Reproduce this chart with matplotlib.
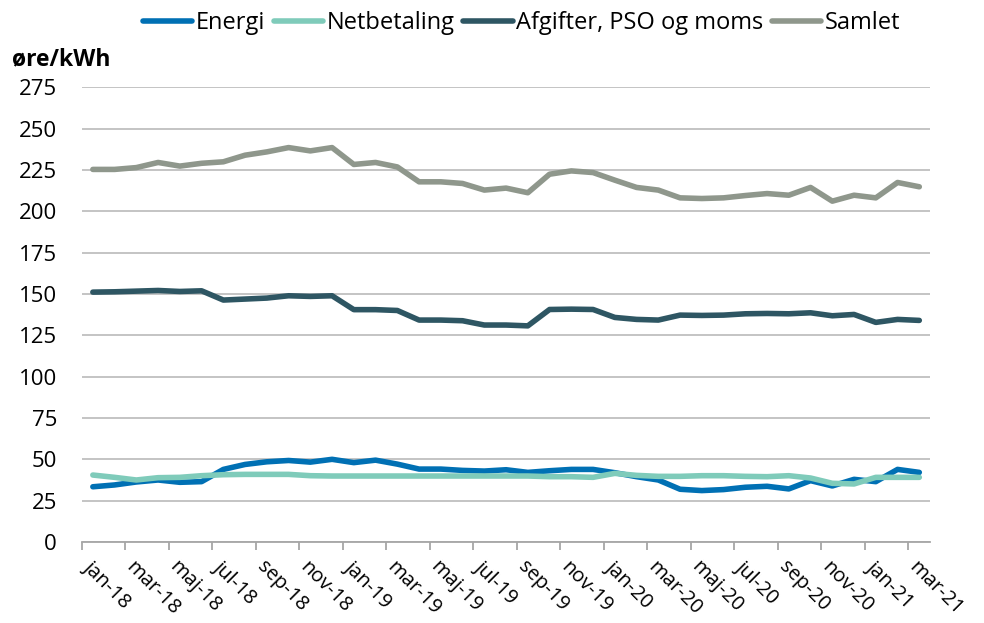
import numpy as np
import matplotlib.pyplot as plt
from matplotlib.ticker import FixedLocator

plt.rcParams['font.family'] = ['Open Sans', 'DejaVu Sans']

# data (øre/kWh), monthly jan-18 .. mar-21
months = ['jan', 'feb', 'mar', 'apr', 'maj', 'jun', 'jul', 'aug', 'sep', 'okt', 'nov', 'dec']
dates = [m + '-' + y for y in ['18', '19', '20', '21'] for m in months][:39]

energi = [33.4, 34.5, 36.3, 37.5, 36.1, 36.5, 43.9, 46.9, 48.5, 49.3,
          48.3, 50.0, 48.0, 49.5, 47.1, 44.1, 44.1, 43.3, 42.9, 43.7,
          42.1, 43.1, 43.9, 43.9, 41.9, 39.5, 37.5, 31.9, 31.1, 31.7,
          33.1, 33.7, 32.1, 37.1, 33.9, 37.9, 36.5, 43.9, 42.1]
netbetaling = [40.5, 39.1, 37.5, 38.9, 39.1, 40.1, 40.7, 40.9, 40.9, 40.9,
               40.1, 39.9, 39.9, 39.9, 39.9, 39.9, 39.9, 39.9, 39.9, 39.9,
               39.9, 39.5, 39.5, 39.1, 41.5, 40.3, 39.7, 39.7, 40.1, 40.1,
               39.7, 39.5, 40.1, 38.7, 35.5, 35.1, 39.1, 39.1, 39.1]
afgifter = [151.1, 151.3, 151.7, 152.1, 151.5, 151.9, 146.3, 146.9, 147.5, 148.9,
            148.5, 148.9, 140.5, 140.5, 140.0, 134.2, 134.2, 133.8, 131.2, 131.2,
            130.7, 140.6, 140.8, 140.6, 135.8, 134.6, 134.2, 137.2, 137.0, 137.2,
            138.0, 138.2, 138.0, 138.6, 136.8, 137.6, 132.8, 134.6, 134.0]
samlet = [225.3, 225.3, 226.4, 229.5, 227.3, 229.0, 229.9, 233.9, 235.9, 238.5,
          236.5, 238.5, 228.3, 229.5, 226.8, 217.8, 217.8, 216.8, 212.8, 214.0,
          211.2, 222.4, 224.4, 223.4, 218.8, 214.4, 212.8, 208.1, 207.7, 208.1,
          209.5, 210.7, 209.7, 214.4, 206.1, 209.7, 208.1, 217.4, 214.8]

series = [('Energi', energi, '#0070B4'),
          ('Netbetaling', netbetaling, '#7FCBBA'),
          ('Afgifter, PSO og moms', afgifter, '#2E5663'),
          ('Samlet', samlet, '#8F978C')]

fig = plt.figure(figsize=(9.84, 6.23), dpi=100)
ax = fig.add_axes([0.0833, 0.130, 0.862, 0.730])

x = np.arange(len(dates))
for name, vals, col in series:
    ax.plot(x, vals, color=col, lw=4, label=name, solid_capstyle='round')

ax.set_xlim(-0.5, len(dates) - 0.5)
ax.set_ylim(0, 275)
ax.set_yticks(np.arange(0, 276, 25))
ax.grid(axis='y', color='#BFBFBF', lw=1.3)
ax.set_axisbelow(True)
for s in ['top', 'right', 'left']:
    ax.spines[s].set_visible(False)
ax.spines['bottom'].set_color('#A6A6A6')
ax.spines['bottom'].set_linewidth(1.3)
ax.tick_params(axis='y', length=0, labelsize=16, pad=18)

# labels on every second category, tick marks between categories
ax.set_xticks(x[::2])
ax.set_xticklabels(dates[::2], rotation=-45, ha='left', va='top',
                   rotation_mode='anchor', fontsize=14.5)
ax.tick_params(axis='x', which='major', length=0, pad=11)
ax.xaxis.set_minor_locator(FixedLocator(np.arange(-0.5, len(dates) - 1, 2)))
ax.tick_params(axis='x', which='minor', length=6, color='#A6A6A6', width=1.3)

fig.text(0.012, 0.904, 'øre/kWh', fontsize=16.5, fontweight='bold', va='center')

fig.legend(loc='center', bbox_to_anchor=(0.530, 0.963), ncol=4, frameon=False,
           fontsize=17, handlelength=2.1, handletextpad=0.15, columnspacing=0.35)

fig.savefig('out.png', dpi=100)
